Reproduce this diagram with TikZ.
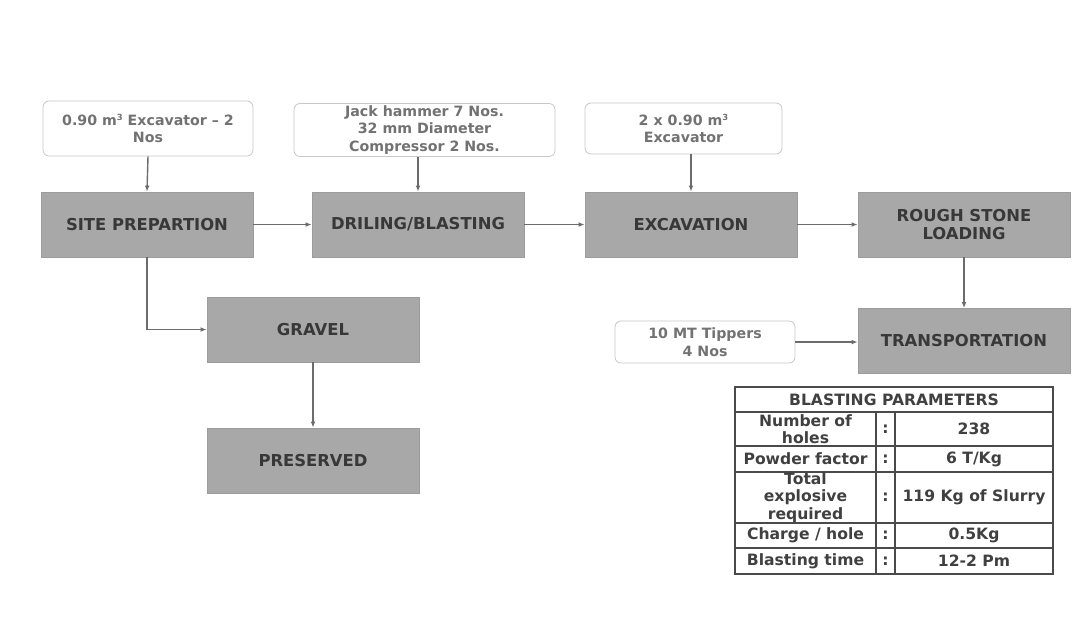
\documentclass[tikz,border=0pt]{standalone}
\usepackage{fontspec}
\setmainfont{DejaVu Sans}
\usetikzlibrary{arrows.meta}

\definecolor{boxgray}{HTML}{A8A8A8}
\definecolor{boxline}{HTML}{9C9C9C}
\definecolor{intext}{HTML}{727272}
\definecolor{linegray}{HTML}{6C6C6C}
\definecolor{tabline}{HTML}{4A4A4A}

\tikzstyle{proc} = [style={rectangle, draw=boxline, fill=boxgray, text=black!78, font=\fontsize{8.2}{9}\selectfont\bfseries, align=center, minimum width=106pt, minimum height=32.5pt, inner sep=1pt}]
\tikzstyle{inp} = [style={rectangle, rounded corners=3pt, draw=black!22, fill=white, text=intext, font=\fontsize{7.1}{8.8}\selectfont\bfseries, align=center, inner sep=1pt}]
\tikzstyle{link} = [style={draw=linegray, line width=0.7pt, -{Latex[length=3pt,width=2.4pt]}}]
\tikzstyle{cell} = [style={font=\fontsize{7.8}{8.6}\selectfont\bfseries, text=black!75, align=center, inner sep=0pt}]

\newcommand*{\tleft}{735}
\newcommand*{\tright}{1053}
\newcommand*{\ttop}{387}
\newcommand*{\tbot}{574}
\newcommand*{\cube}{\raisebox{2.6pt}{\fontsize{4.2}{4.2}\selectfont 3}}

\begin{document}
\begin{tikzpicture}[x=0.5pt, y=-0.5pt]
\useasboundingbox (0,0) rectangle (1079,617);

%% inputs
\node [inp, minimum width=105pt, minimum height=27.5pt] (exc1) at (148,128.5) {0.90 m\cube{} Excavator -- 2\\Nos};
\node [inp, minimum width=130.5pt, minimum height=26pt] (jack) at (424.5,130) {Jack hammer 7 Nos.\\32 mm Diameter\\Compressor 2 Nos.};
\node [inp, minimum width=98.5pt, minimum height=25.5pt] (exc2) at (683.5,128.5) {2 x 0.90 m\cube\\Excavator};
\node [inp, minimum width=90pt, minimum height=21pt] (tip) at (705,342) {10 MT Tippers\\4 Nos};

%% process boxes
\node [proc] (site) at (147,224.5) {SITE PREPARTION};
\node [proc] (drill) at (418,224.5) {DRILING/BLASTING};
\node [proc] (excav) at (691,224.5) {EXCAVATION};
\node [proc] (rough) at (964,224.5) {ROUGH STONE\\LOADING};
\node [proc] (gravel) at (313,329.5) {GRAVEL};
\node [proc] (pres) at (313,460.5) {PRESERVED};
\node [proc] (trans) at (964,341) {TRANSPORTATION};

%% links
\draw [link] (exc1.south) -- (site.north);
\draw [link] (jack.south -| drill.north) -- (drill.north);
\draw [link] (exc2.south -| excav.north) -- (excav.north);
\draw [link] (site.east) -- (drill.west);
\draw [link] (drill.east) -- (excav.west);
\draw [link] (excav.east) -- (rough.west);
\draw [link] (rough.south) -- (trans.north);
\draw [link] (tip.east) -- (tip.east -| trans.west);
\draw [link] (site.south) |- (gravel.west);
\draw [link] (gravel.south) -- (pres.north);

%% blasting parameters table
\draw [tabline, line width=1pt] (\tleft,\ttop) rectangle (\tright,\tbot);
\foreach \y in {412,446,472,523,548}
  {\draw [tabline, line width=0.7pt] (\tleft,\y) -- (\tright,\y);}
\draw [tabline, line width=0.7pt] (876,412) -- (876,\tbot)
  (895,412) -- (895,\tbot);

\node [cell] (bp) at (894,399.5) {BLASTING PARAMETERS};
\foreach \y/\lab/\val [count=\i] in {429/{Number of\\holes}/{238},
    459/{Powder factor}/{6 T/Kg},
    497.5/{Total\\explosive\\required}/{119 Kg of Slurry},
    535.5/{Charge / hole}/{0.5Kg},
    561/{Blasting time}/{12-2 Pm}}
  {
  \node [cell] (lab\i) at (805.5,\y) {\lab};
  \node [cell] (col\i) at (885.5,\y) {:};
  \node [cell] (val\i) at (974,\y) {\val};
  }

\end{tikzpicture}
\end{document}
